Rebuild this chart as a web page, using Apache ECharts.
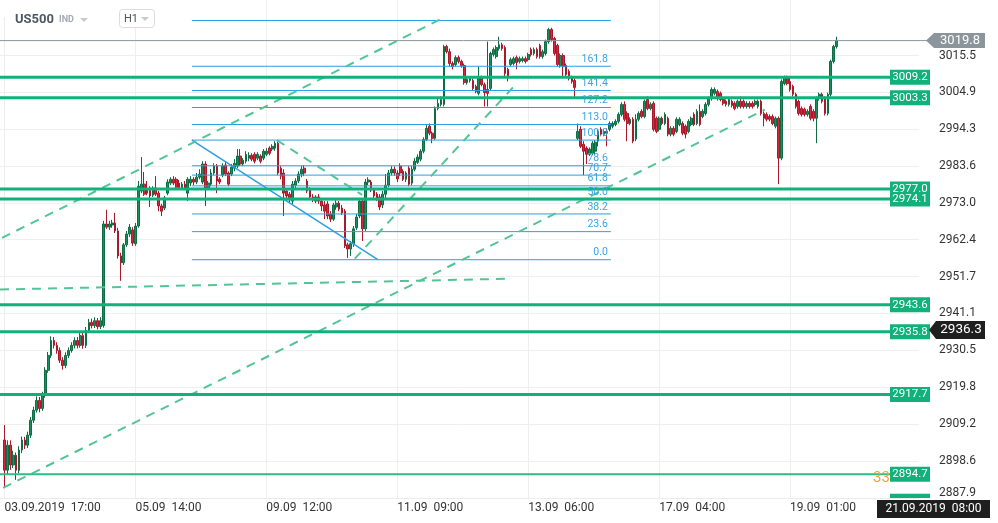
<!DOCTYPE html>
<html><head><meta charset="utf-8">
<script src="https://cdn.jsdelivr.net/npm/echarts@6/dist/echarts.min.js"></script>
<style>html,body{margin:0;padding:0;background:#fff}#c{width:998px;height:523px}</style>
</head><body><div id="c"></div>
<script>
// ---------- data ----------
const timeLabels = ['03.09.2019  17:00','05.09  14:00','09.09  12:00','11.09  09:00','13.09  06:00','17.09  04:00','19.09  01:00'];
const timeLabelIndex = [0,45,90,135,180,225,270];
const priceTicks = [2887.9,2898.6,2909.2,2919.8,2930.5,2941.1,2951.7,2962.4,2973.0,2983.6,2994.3,3004.9,3015.5];
// [open, close, low, high], one per hourly bar
const candles = [
[2904.6,2895.9,2890.8,2908.9],[2895.9,2903.1,2894.5,2904.5],[2903.1,2897.4,2896.0,2904.5],[2897.4,2900.2,2896.5,2901.5],[2900.2,2895.9,2893.1,2901.0],
[2895.9,2901.7,2895.0,2902.8],[2901.7,2904.6,2900.8,2905.6],[2904.6,2903.1,2902.0,2905.5],[2903.1,2906.0,2902.3,2907.0],[2906.0,2910.3,2905.2,2911.2],
[2910.3,2913.2,2909.5,2914.2],[2913.2,2916.0,2912.5,2917.2],[2916.0,2913.7,2912.6,2917.0],[2913.7,2917.5,2913.0,2918.5],[2917.5,2924.7,2916.8,2925.6],
[2924.7,2929.0,2924.0,2930.0],[2929.0,2933.3,2928.3,2934.5],[2933.3,2931.9,2931.0,2934.3],[2931.9,2930.4,2929.5,2932.8],[2930.4,2927.6,2926.8,2931.3],
[2927.6,2926.1,2924.9,2928.5],[2926.1,2929.0,2925.3,2929.9],[2929.0,2930.4,2928.2,2931.3],[2930.4,2931.9,2929.8,2932.8],[2931.9,2933.3,2931.0,2934.2],
[2933.3,2931.9,2931.0,2934.3],[2931.9,2934.7,2931.2,2935.6],[2934.7,2931.9,2930.9,2935.5],[2931.9,2936.2,2931.1,2937.2],[2936.2,2938.5,2935.5,2939.5],
[2938.5,2937.6,2936.8,2939.6],[2937.6,2939.0,2936.9,2940.0],[2939.0,2937.3,2936.5,2939.8],[2937.3,2939.0,2936.6,2940.0],
[2937.6,2966.9,2937.0,2967.8],[2966.9,2966.0,2965.5,2971.0],[2966.0,2966.9,2965.2,2967.8],[2966.6,2967.2,2965.8,2968.1],[2967.2,2964.9,2964.3,2970.1],
[2964.9,2957.7,2956.9,2965.8],[2957.7,2955.7,2950.5,2958.6],[2955.7,2960.9,2955.1,2961.4],[2960.9,2964.0,2960.3,2964.9],[2964.0,2966.0,2963.2,2966.9],
[2965.2,2961.4,2960.6,2966.0],[2961.2,2966.3,2960.6,2967.2],[2966.3,2977.8,2965.8,2979.3],[2976.4,2978.4,2975.8,2986.2],[2978.4,2975.5,2975.0,2981.9],
[2977.0,2975.8,2975.2,2979.3],[2977.3,2975.0,2971.8,2977.8],[2975.2,2977.3,2974.7,2977.8],[2977.3,2975.5,2975.0,2980.7],[2975.8,2972.1,2970.6,2976.4],
[2972.1,2970.6,2969.2,2972.7],[2971.5,2974.4,2970.9,2975.0],[2975.8,2979.0,2975.2,2979.8],[2978.7,2979.8,2978.1,2980.4],[2979.8,2978.7,2978.1,2980.7],
[2979.8,2977.5,2977.0,2980.4],[2978.7,2977.3,2976.7,2979.6],[2977.3,2978.4,2976.7,2979.0],[2978.4,2977.3,2976.7,2979.3],[2975.8,2979.8,2973.5,2980.4],
[2978.7,2979.8,2977.8,2980.7],[2979.8,2979.0,2978.1,2980.4],[2979.0,2980.4,2978.4,2981.6],[2980.4,2981.3,2979.8,2982.7],[2979.0,2984.2,2978.4,2985.0],
[2984.2,2977.3,2972.1,2985.0],[2977.3,2978.7,2976.7,2979.3],[2978.4,2981.6,2977.8,2982.7],[2981.6,2983.6,2981.0,2984.4],[2983.6,2979.3,2975.8,2984.2],
[2979.8,2979.0,2978.4,2980.4],[2981.0,2983.6,2980.4,2984.4],[2983.9,2981.3,2980.7,2985.0],[2981.6,2978.4,2977.8,2982.1],[2981.3,2983.3,2980.7,2984.2],
[2983.0,2984.4,2982.1,2985.6],[2983.6,2986.5,2983.0,2988.5],[2986.5,2984.2,2983.6,2988.5],[2984.2,2985.3,2983.6,2985.9],[2985.0,2987.0,2984.4,2987.9],
[2985.9,2986.7,2985.0,2987.6],[2986.7,2985.6,2985.0,2987.3],[2987.0,2985.0,2984.4,2987.6],[2985.9,2987.0,2985.3,2987.6],[2986.5,2985.0,2984.4,2987.0],
[2985.9,2987.9,2985.3,2988.5],[2987.0,2987.9,2986.5,2988.8],[2988.8,2987.3,2986.7,2989.3],[2988.5,2989.3,2987.9,2989.9],
[2988.8,2990.2,2988.0,2990.8],[2990.2,2981.6,2981.0,2990.8],[2983.0,2980.7,2979.8,2983.6],[2981.6,2975.8,2969.2,2982.7],[2976.4,2975.0,2974.1,2977.0],
[2975.5,2974.1,2973.2,2976.1],[2973.5,2978.4,2972.7,2979.3],[2978.1,2979.3,2977.0,2980.1],[2979.3,2981.3,2978.7,2982.1],[2981.3,2982.7,2980.4,2983.6],
[2983.0,2981.6,2980.7,2983.9],[2979.3,2976.4,2975.8,2979.9],[2976.7,2974.7,2974.1,2977.5],[2974.7,2973.8,2973.2,2975.5],[2973.5,2974.7,2972.9,2975.2],
[2974.7,2973.5,2972.7,2975.5],[2973.5,2972.1,2970.6,2974.4],[2972.4,2970.6,2968.3,2973.5],[2972.7,2969.2,2968.3,2973.5],[2969.8,2968.3,2967.5,2970.6],
[2968.3,2972.4,2967.8,2973.0],[2971.8,2972.9,2971.0,2973.8],[2972.9,2971.2,2970.6,2973.5],[2971.5,2970.1,2969.5,2972.4],[2970.6,2960.6,2960.0,2971.2],
[2960.9,2959.7,2957.1,2961.5],[2959.7,2961.2,2957.7,2962.0],[2961.2,2965.5,2960.3,2966.3],[2965.8,2968.9,2965.2,2969.8],[2969.2,2973.5,2968.6,2974.4],
[2973.5,2965.5,2962.0,2974.1],[2965.5,2979.0,2964.9,2979.9],[2979.0,2979.6,2978.1,2980.4],[2979.0,2976.7,2976.1,2979.6],[2976.7,2975.0,2974.4,2977.3],
[2975.5,2974.1,2973.5,2976.1],[2974.7,2971.8,2970.9,2975.5],[2972.4,2975.5,2971.5,2976.4],[2975.5,2978.1,2974.4,2981.3],[2978.1,2981.6,2977.5,2982.5],
[2981.6,2982.7,2980.9,2983.6],[2982.7,2981.6,2980.8,2983.5],[2981.6,2979.9,2979.0,2982.4],
[2983.6,2981.6,2980.7,2984.4],[2982.1,2979.8,2979.3,2982.7],[2979.8,2981.6,2979.0,2982.1],[2983.0,2978.4,2977.8,2983.6],[2978.7,2982.7,2978.1,2983.6],
[2982.7,2985.0,2982.1,2985.9],[2984.7,2986.2,2984.2,2987.0],[2985.6,2987.9,2985.0,2988.5],[2987.9,2991.3,2987.3,2991.9],[2991.3,2994.5,2990.8,2995.4],
[2995.1,2993.1,2992.5,2995.9],[2993.1,2991.6,2990.2,2993.6],[2991.6,3000.2,2991.1,3000.8],[3000.2,3001.7,2999.7,3003.1],[3001.4,3002.8,3000.8,3003.7],
[3001.4,3018.1,3000.8,3018.6],[3018.1,3016.6,3016.1,3018.6],[3016.6,3013.2,3012.3,3017.5],[3013.2,3012.3,3011.5,3013.8],[3012.9,3014.9,3012.3,3015.5],
[3014.9,3013.8,3013.2,3015.5],[3013.8,3012.6,3012.0,3014.3],[3012.6,3007.7,3007.1,3013.2],[3007.7,3008.6,3007.1,3009.2],[3008.3,3008.9,3007.7,3009.4],
[3008.3,3006.0,3005.4,3008.9],[3006.6,3005.1,3004.6,3007.1],[3004.6,3009.2,3004.0,3012.3],[3009.2,3007.1,3006.6,3009.7],[3007.1,3004.8,3000.8,3007.7],
[3005.7,3004.6,3000.8,3019.5],[3006.0,3016.1,3005.4,3016.6],[3015.8,3017.2,3015.2,3017.8],[3015.2,3017.8,3014.6,3018.4],[3017.5,3018.6,3016.9,3020.9],
[3018.6,3017.5,3016.9,3019.2],[3017.8,3010.3,3009.4,3018.4],[3011.5,3009.4,3008.0,3012.0],[3012.9,3014.3,3012.3,3014.9],[3013.2,3014.6,3012.6,3015.2],
[3014.9,3013.5,3011.5,3015.5],[3013.8,3014.6,3013.2,3015.2],[3014.0,3014.6,3013.5,3015.2],[3014.6,3013.8,3013.2,3015.2],[3014.3,3015.8,3013.8,3016.3],
[3017.2,3015.8,3015.2,3017.8],[3016.1,3017.2,3015.5,3017.8],[3017.2,3015.2,3014.6,3017.8],[3018.4,3015.2,3014.6,3018.9],[3015.2,3016.6,3014.6,3017.2],
[3016.1,3019.5,3015.5,3020.1],[3019.5,3023.0,3018.9,3023.5],[3023.0,3020.1,3019.5,3023.5],[3020.4,3016.1,3015.5,3020.9],[3018.4,3012.9,3012.3,3018.9],
[3012.6,3015.5,3012.0,3016.1],[3015.5,3012.3,3009.4,3016.1],[3012.6,3010.0,3009.4,3013.2],[3010.9,3008.9,3008.3,3011.5],[3009.2,3008.0,3007.4,3009.7],
[3008.3,3006.3,3003.1,3008.9],
[2991.6,2993.6,2991.1,2995.9],[2994.2,2989.3,2988.8,2995.1],[2989.9,2987.9,2981.0,2990.8],[2988.8,2987.0,2984.2,2989.3],[2987.0,2988.5,2986.5,2989.0],
[2987.3,2990.2,2986.7,2990.8],[2987.9,2990.5,2987.0,2991.1],[2990.8,2993.6,2989.3,2994.2],[2994.2,2992.8,2992.2,2994.8],[2992.8,2993.6,2992.2,2994.2],
[2993.6,2993.1,2989.3,2994.5],[2994.2,2995.9,2993.6,2996.5],[2995.1,2995.9,2994.5,2996.5],[2995.6,2996.5,2995.1,2997.1],[2996.5,2998.5,2995.9,2999.1],
[2998.5,3001.4,2997.9,3002.0],[3001.4,2997.1,2996.5,3002.3],[2998.8,2995.9,2990.8,2999.4],[2995.9,2997.1,2995.4,2997.7],[2997.1,2990.8,2990.2,2997.7],
[2991.4,2997.1,2990.8,2998.5],[2997.1,2998.8,2996.5,2999.4],[2999.4,2997.9,2997.4,3000.0],[2997.9,3002.3,2997.4,3002.8],[3002.8,3000.2,2999.7,3003.7],
[3000.2,3001.4,2999.7,3002.0],[3001.7,2994.2,2993.6,3002.3],[2997.4,2993.6,2993.1,2997.9],[2994.2,2997.4,2993.6,2997.9],[2997.4,2995.9,2995.4,2997.9],
[2995.9,2998.5,2995.4,2999.1],[2997.4,2992.8,2992.2,2997.9],[2992.8,2994.5,2992.2,2995.1],[2994.5,2992.8,2992.2,2995.1],[2993.6,2997.1,2993.1,2997.7],
[2995.6,2997.1,2995.1,2997.7],[2995.9,2993.1,2992.5,2996.5],[2995.1,2992.8,2991.6,2995.6],[2993.6,2996.5,2993.1,2997.1],[2995.6,2997.4,2995.1,2997.9],
[2998.5,2995.6,2995.1,2999.1],[2995.9,2999.4,2995.4,3000.0],[2999.4,2995.6,2995.1,3001.4],[2997.9,2999.4,2997.4,3000.0],[2998.8,3001.4,2998.2,3002.0],
[3001.4,3003.1,3000.8,3003.7],[3003.1,3005.7,3002.5,3006.3],[3004.6,3005.7,3004.0,3006.3],[3005.1,3003.1,3002.5,3005.7],[3004.6,3002.8,3002.3,3005.1],
[3002.8,3001.7,3001.1,3003.4],[3002.3,3001.4,3000.8,3002.8],[3001.4,3002.8,3000.8,3003.4],[3002.3,3001.1,3000.5,3002.8],[3001.7,3000.2,2999.7,3002.3],
[3000.8,3002.3,3000.2,3002.8],[3002.3,3000.8,3000.2,3003.7],[3002.3,3000.8,3000.2,3002.8],[3000.8,3001.7,3000.2,3002.3],[3001.7,3000.8,3000.2,3002.3],
[3001.7,3000.8,3000.2,3002.3],[3001.4,3002.3,3000.8,3002.8],[3000.8,3002.3,3000.2,3002.8],[3002.3,2998.8,2998.2,3002.8],[2998.8,2997.4,2995.1,2999.4],
[2998.5,2997.1,2996.5,2999.1],[2997.9,2997.1,2996.5,2998.5],[2997.9,2995.9,2995.4,2998.5],[2995.1,2997.4,2994.5,2997.9],[2997.4,2985.9,2978.4,2997.9],
[2985.9,3008.0,2985.3,3008.6],[3007.4,3009.2,3006.9,3009.7],[3009.2,3007.4,3006.9,3009.7],[3008.0,3005.7,3005.1,3009.4],[3006.6,3004.3,3003.7,3007.1],
[3004.3,3000.8,3000.2,3004.8],[3002.3,2998.8,2998.2,3002.8],[3000.2,2998.5,2997.9,3000.8],[3000.0,2998.5,2997.9,3000.5],[2998.5,2999.4,2997.9,3000.0],
[3000.8,2997.4,2996.8,3001.4],[2999.4,2997.4,2996.5,3000.0],[2997.4,3003.1,2990.2,3003.7],[3003.1,3004.3,3002.5,3004.8],[3004.3,3002.3,3001.7,3004.8],
[3003.1,2998.8,2998.2,3003.7],[2998.8,3004.3,2998.2,3004.8],[3004.3,3013.8,3003.7,3014.3],[3013.8,3018.1,3013.2,3018.6],[3018.1,3019.8,3017.5,3020.9]
];
const levels = [3009.2,3003.3,2977.0,2974.1,2943.6,2935.8,2917.7,2894.7,2886.9];
const fibPrices = [2956.6,2964.7,2969.8,2973.9,2977.9,2981.0,2983.7,2991.1,2995.6,3000.5,3005.4,3012.4,3025.6];
const fibLabels = ['0.0','23.6','38.2','50.0','61.8','70.7','78.6','100.0','113.0','127.2','141.4','161.8',''];
const fibSpan = [64.4, 208.4];               // bar index range of the fib tool
const fibDiagonal = [[64.4, 2991.1],[128.3, 2956.6]];
const trendLines = [
  [[-0.86, 2962.9],[149.7, 3025.9]],
  [[93.6, 2991.1],[122.9, 2975.3]],
  [[120.4, 2956.9],[175.4, 3006.9]],
  [[-0.5, 2890.8],[261.3, 2999.9]],
  [[-1.55, 2948.0],[173.0, 2951.1]]
];
const lastPrice = 3019.8;
const crossPrice = 2936.3;
const crossTime = '21.09.2019  08:00';
const symbolName = 'US500', symbolType = 'IND', timeframe = 'H1', countdownText = '33';

// ---------- chart ----------
const xMin = -1.55, xMax = 314.3, yMin = 2887.87, yMax = 3031.51;
const chart = echarts.init(document.getElementById('c'));
const GREEN = '#12b07a', BLUE = '#2b9fe6', DASH = '#52c596';

const series = [{
  type: 'candlestick', silent: true, z: 2,
  data: candles.map((c, i) => [i, c[0], c[1], c[2], c[3]]),
  encode: { x: 0, y: [1, 2, 3, 4] },
  barWidth: 2.2,
  itemStyle: { color: '#1b8c5a', color0: '#d9263b', borderColor: '#0e6d44', borderColor0: '#a8192c', borderWidth: 1 }
}];
fibPrices.forEach(p => series.push({
  type: 'line', silent: true, z: 4, symbol: 'none',
  data: [[fibSpan[0], p], [fibSpan[1], p]],
  lineStyle: { color: BLUE, width: 1 }
}));
series.push({ type: 'line', silent: true, z: 4, symbol: 'none', data: fibDiagonal, lineStyle: { color: BLUE, width: 1.5 } });
trendLines.forEach(t => series.push({
  type: 'line', silent: true, z: 5, symbol: 'none', data: t,
  lineStyle: { color: DASH, width: 2, type: [9, 7] }
}));

chart.setOption({
  animation: false,
  textStyle: { fontFamily: 'Roboto' },
  grid: { left: 0, top: 0, width: 919, height: 498, containLabel: false },
  xAxis: {
    type: 'value', min: xMin, max: xMax,
    axisLine: { show: true, lineStyle: { color: '#ececec' } },
    axisTick: { show: false, customValues: timeLabelIndex },
    axisLabel: { customValues: timeLabelIndex, formatter: v => timeLabels[timeLabelIndex.indexOf(v)] || '', align: 'left', color: '#333', fontSize: 12, margin: 4 },
    splitLine: { show: true, lineStyle: { color: '#efefef' } }
  },
  yAxis: {
    type: 'value', position: 'right', min: yMin, max: yMax,
    axisLine: { show: true, lineStyle: { color: '#ececec' } },
    axisTick: { show: false, customValues: priceTicks },
    axisLabel: {
      customValues: priceTicks, color: '#333', fontSize: 12, margin: 20,
      formatter: v => (v === priceTicks[0] ? '{lo|' + v.toFixed(1) + '}' : v.toFixed(1)),
      rich: { lo: { padding: [0, 0, 10, 0], fontSize: 12, color: '#333' } }
    },
    splitLine: { show: true, lineStyle: { color: '#efefef' } }
  },
  series
});

// ---------- overlays positioned through the axes ----------
const py = v => chart.convertToPixel({ yAxisIndex: 0 }, v);
const px = v => chart.convertToPixel({ xAxisIndex: 0 }, v);
const gBottom = py(yMin);
const els = [];
const txt = (x, y, s, font, fill, align, z) => ({ type: 'text', x, y, z: z || 120, silent: true,
  style: { text: s, font, fill, align: align || 'left', verticalAlign: 'middle' } });

// header
els.push({ type: 'rect', z: 100, silent: true, shape: { x: 0, y: 0, width: 175, height: 17 }, style: { fill: '#fff' } });
els.push(txt(15, 20, symbolName, 'bold 13px Roboto', '#4d5963'));
els.push(txt(59, 20, symbolType, 'bold 9px Roboto', '#a3abb2'));
els.push({ type: 'polygon', z: 120, silent: true, shape: { points: [[80, 18], [88, 18], [84, 22]] }, style: { fill: '#c5cacd' } });
els.push({ type: 'rect', z: 110, silent: true, shape: { x: 119.5, y: 9.5, width: 35, height: 18, r: 3 }, style: { fill: '#fff', stroke: '#dcdcdc', lineWidth: 1 } });
els.push(txt(124, 19, timeframe, '11px Roboto', '#4a5560'));
els.push({ type: 'polygon', z: 120, silent: true, shape: { points: [[141, 17], [149, 17], [145, 21]] }, style: { fill: '#c5cacd' } });

// fib labels
fibPrices.forEach((p, i) => {
  if (!fibLabels[i]) return;
  els.push({ type: 'text', z: 60, silent: true, x: px(fibSpan[1]) - 3, y: py(p) - 1.5,
    style: { text: fibLabels[i], font: '10.5px Roboto', fill: '#3aa3e6', align: 'right', verticalAlign: 'bottom' } });
});

// countdown text (behind the level box)
els.push(txt(873, py(2894.7) + 4, countdownText, '15px Roboto', '#f5a035', 'left', 55));

// horizontal levels
levels.forEach(v => {
  const y = py(v);
  const thin = v === 2894.7;
  if (y <= gBottom) els.push({ type: 'line', z: 50, silent: true, shape: { x1: 0, y1: y, x2: 890, y2: y },
    style: { stroke: thin ? '#2fbb86' : GREEN, lineWidth: thin ? 2 : 3 } });
  const top = y - 7.5;
  if (top < gBottom) {
    const h = Math.min(15, gBottom - top);
    els.push({ type: 'rect', z: 60, silent: true, shape: { x: 890, y: top, width: 40, height: h }, style: { fill: GREEN } });
    if (h >= 15) els.push(txt(910, y, v.toFixed(1), '11.5px Roboto', '#fff', 'center', 61));
  }
});

// last price line + label
const yl = py(lastPrice);
els.push({ type: 'line', z: 50, silent: true, shape: { x1: 0, y1: yl, x2: 927, y2: yl }, style: { stroke: '#8b959b', lineWidth: 1 } });
els.push({ type: 'polygon', z: 70, silent: true, shape: { points: [[926, yl], [934, yl - 7.5], [985, yl - 7.5], [985, yl + 7.5], [934, yl + 7.5]] }, style: { fill: '#8b959b' } });
els.push(txt(960, yl, lastPrice.toFixed(1), '13px Roboto', '#fff', 'center', 71));

// crosshair labels
const yc = py(crossPrice);
els.push({ type: 'polygon', z: 70, silent: true, shape: { points: [[929, yc], [936, yc - 9], [985, yc - 9], [985, yc + 9], [936, yc + 9]] }, style: { fill: '#1f1f1f' } });
els.push(txt(961, yc, crossPrice.toFixed(1), '13.5px Roboto', '#fff', 'center', 71));
els.push({ type: 'rect', z: 70, silent: true, shape: { x: 877, y: gBottom + 2, width: 113, height: 18 }, style: { fill: '#1f1f1f' } });
els.push(txt(933.5, gBottom + 11, crossTime, '12px Roboto', '#fff', 'center', 71));

chart.setOption({ graphic: els });
</script></body></html>
